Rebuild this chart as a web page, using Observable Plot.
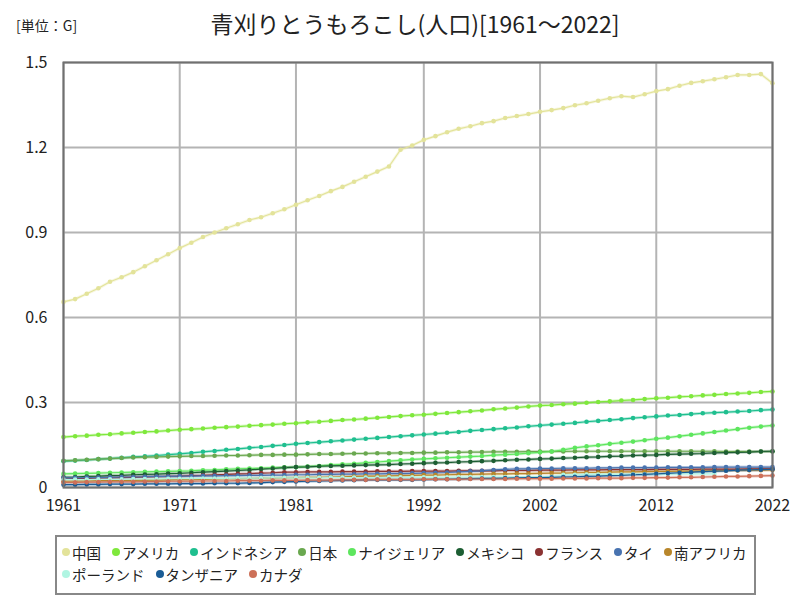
<!DOCTYPE html>
<html><head><meta charset="utf-8">
<script src="https://cdn.jsdelivr.net/npm/d3@7"></script>
<script src="https://cdn.jsdelivr.net/npm/@observablehq/plot@0.6"></script>
<style>
body{margin:0;background:#fff;font-family:"Noto Sans CJK JP","Noto Sans",sans-serif;}
#wrap{position:relative;width:800px;height:600px;overflow:hidden;}
#title{position:absolute;top:6px;left:0;width:830px;text-align:center;font-size:23px;color:#222;}
#unit{position:absolute;top:15px;left:16px;font-size:14px;color:#222;}
#chart{position:absolute;top:0;left:0;}
#legend{position:absolute;left:55px;top:535px;width:692px;height:52px;border:2px solid #888;box-sizing:content-box;padding-left:5px;padding-top:4px;font-size:14.5px;color:#222;overflow:hidden;}
.row{display:flex;flex-wrap:nowrap;column-gap:11px;white-space:nowrap;}
.it{display:flex;align-items:center;height:22px;}
.dt{width:8px;height:8px;border-radius:50%;margin-right:2px;}
</style></head>
<body><div id="wrap"><div id="chart"></div><div id="unit">[単位：G]</div><div id="title">青刈りとうもろこし(人口)[1961～2022]</div><div id="legend"><div class="row" id="r1"></div><div class="row" id="r2"></div></div></div>
<script>
const years = d3.range(1961, 2023);
const countries = ["中国","アメリカ","インドネシア","日本","ナイジェリア","メキシコ","フランス","タイ","南アフリカ","ポーランド","タンザニア","カナダ"];
const colors = ["#e3e39a","#7fe83c","#1fbf8f","#6aa84f","#5ee65e","#1d5e33","#8b3232","#4873b0","#b8862b","#b0f5e2","#1a5c96","#cd7058"];
const xTicks = [1961,1971,1981,1992,2002,2012,2022];
const yTicks = [0,0.3,0.6,0.9,1.2,1.5];

const china = [0.655,0.665,0.684,0.703,0.726,0.742,0.760,0.781,0.802,0.823,
0.845,0.864,0.884,0.900,0.915,0.929,0.944,0.954,0.968,0.982,
0.998,1.014,1.029,1.046,1.061,1.079,1.097,1.115,1.133,1.192,
1.207,1.227,1.240,1.254,1.266,1.275,1.286,1.293,1.304,1.311,
1.318,1.326,1.332,1.339,1.349,1.356,1.365,1.374,1.381,1.378,
1.388,1.399,1.406,1.418,1.428,1.434,1.441,1.448,1.456,1.456,
1.459,1.427];
const usa = [0.178,0.181,0.183,0.186,0.188,0.191,0.193,0.196,0.198,0.201,
0.204,0.206,0.208,0.211,0.213,0.215,0.218,0.220,0.222,0.225,
0.227,0.230,0.232,0.235,0.238,0.240,0.243,0.246,0.249,0.252,
0.255,0.257,0.260,0.263,0.266,0.269,0.272,0.276,0.279,0.282,
0.286,0.289,0.291,0.294,0.296,0.299,0.302,0.304,0.307,0.309,
0.312,0.315,0.317,0.320,0.322,0.325,0.327,0.330,0.332,0.334,
0.337,0.339];
const indonesia = [0.093,0.095,0.097,0.100,0.102,0.105,0.108,0.110,0.113,0.116,
0.119,0.122,0.126,0.129,0.133,0.136,0.140,0.143,0.147,0.150,
0.154,0.157,0.160,0.163,0.166,0.169,0.172,0.175,0.178,0.181,
0.184,0.187,0.190,0.193,0.196,0.200,0.203,0.206,0.209,0.212,
0.216,0.219,0.222,0.225,0.228,0.232,0.235,0.238,0.241,0.245,
0.248,0.251,0.254,0.256,0.259,0.262,0.264,0.266,0.268,0.270,
0.273,0.275];
const japan = [0.094,0.096,0.098,0.100,0.102,0.104,0.106,0.107,0.108,0.109,
0.110,0.111,0.111,0.112,0.113,0.113,0.114,0.115,0.115,0.116,
0.116,0.117,0.118,0.118,0.119,0.120,0.120,0.121,0.121,0.122,
0.122,0.123,0.123,0.124,0.124,0.125,0.125,0.126,0.126,0.126,
0.127,0.127,0.127,0.127,0.128,0.128,0.128,0.128,0.128,0.128,
0.128,0.128,0.128,0.128,0.128,0.128,0.128,0.127,0.127,0.127,
0.127,0.127];
const nigeria = [0.048,0.049,0.050,0.051,0.052,0.053,0.054,0.055,0.056,0.057,
0.058,0.059,0.061,0.062,0.064,0.066,0.067,0.068,0.070,0.071,
0.072,0.074,0.076,0.079,0.082,0.084,0.087,0.090,0.093,0.096,
0.099,0.101,0.103,0.105,0.107,0.109,0.111,0.114,0.116,0.118,
0.121,0.124,0.127,0.133,0.140,0.145,0.149,0.154,0.158,0.162,
0.167,0.172,0.176,0.181,0.186,0.191,0.196,0.201,0.206,0.211,
0.215,0.219];
const mexico = [0.036,0.037,0.039,0.040,0.042,0.043,0.045,0.046,0.047,0.049,
0.050,0.052,0.054,0.056,0.058,0.060,0.062,0.065,0.067,0.070,
0.072,0.073,0.075,0.076,0.077,0.078,0.079,0.080,0.081,0.083,
0.084,0.086,0.087,0.088,0.090,0.091,0.093,0.094,0.096,0.098,
0.099,0.101,0.102,0.104,0.105,0.107,0.108,0.110,0.111,0.113,
0.114,0.115,0.117,0.118,0.119,0.120,0.122,0.123,0.124,0.125,
0.127,0.128];
const france = [0.030,0.031,0.032,0.033,0.034,0.035,0.036,0.037,0.038,0.039,
0.040,0.042,0.043,0.045,0.046,0.048,0.049,0.051,0.052,0.054,
0.054,0.055,0.055,0.055,0.056,0.056,0.056,0.057,0.057,0.057,
0.058,0.058,0.058,0.058,0.059,0.059,0.059,0.059,0.060,0.060,
0.060,0.061,0.061,0.061,0.062,0.062,0.062,0.063,0.063,0.063,
0.063,0.064,0.064,0.064,0.064,0.065,0.065,0.065,0.065,0.066,
0.066,0.066];
const thailand = [0.034,0.034,0.035,0.035,0.036,0.037,0.037,0.038,0.039,0.039,
0.040,0.040,0.041,0.041,0.042,0.042,0.043,0.043,0.044,0.044,
0.045,0.045,0.046,0.046,0.047,0.047,0.048,0.048,0.049,0.049,
0.050,0.051,0.052,0.053,0.055,0.057,0.059,0.062,0.064,0.066,
0.066,0.067,0.067,0.068,0.068,0.068,0.069,0.069,0.070,0.070,
0.070,0.070,0.071,0.071,0.071,0.071,0.072,0.072,0.072,0.072,
0.072,0.072];
const southAfrica = [0.022,0.023,0.023,0.024,0.024,0.025,0.025,0.026,0.026,0.027,
0.028,0.028,0.029,0.030,0.031,0.031,0.032,0.033,0.033,0.034,
0.035,0.036,0.036,0.037,0.038,0.039,0.040,0.040,0.041,0.042,
0.043,0.044,0.044,0.045,0.046,0.046,0.047,0.048,0.048,0.049,
0.049,0.050,0.051,0.051,0.052,0.053,0.053,0.054,0.055,0.055,
0.056,0.057,0.057,0.058,0.058,0.059,0.059,0.060,0.060,0.061,
0.061,0.062];
const poland = [0.028,0.028,0.028,0.029,0.029,0.029,0.030,0.030,0.030,0.031,
0.031,0.031,0.032,0.032,0.032,0.033,0.033,0.033,0.034,0.034,
0.034,0.034,0.034,0.035,0.035,0.035,0.035,0.035,0.036,0.036,
0.036,0.036,0.036,0.036,0.037,0.037,0.037,0.037,0.037,0.037,
0.038,0.038,0.038,0.045,0.045,0.046,0.046,0.046,0.046,0.047,
0.047,0.047,0.047,0.048,0.048,0.048,0.048,null,null,null,
null,null];
const tanzania = [0.010,0.010,0.011,0.011,0.012,0.012,0.012,0.013,0.013,0.013,
0.014,0.014,0.014,0.015,0.015,0.015,0.016,0.017,0.019,0.020,
0.021,0.022,0.023,0.024,0.025,0.026,0.027,0.027,0.027,0.027,
0.027,0.028,0.029,0.029,0.030,0.031,0.032,0.032,0.033,0.034,
0.035,0.035,0.036,0.037,0.038,0.039,0.040,0.042,0.043,0.045,
0.046,0.048,0.050,0.052,0.054,0.056,0.058,0.059,0.061,0.062,
0.063,0.064];
const canada = [0.018,0.018,0.019,0.019,0.020,0.020,0.020,0.021,0.021,0.022,
0.022,0.022,0.023,0.023,0.023,0.024,0.024,0.024,0.025,0.025,
0.025,0.026,0.026,0.026,0.027,0.027,0.027,0.028,0.028,0.028,
0.028,0.029,0.029,0.029,0.029,0.030,0.030,0.030,0.030,0.031,
0.031,0.031,0.031,0.032,0.032,0.032,0.033,0.033,0.033,0.034,
0.034,0.035,0.035,0.036,0.036,0.037,0.038,0.039,0.039,0.040,
0.041,0.042];

const series = [china,usa,indonesia,japan,nigeria,mexico,france,thailand,southAfrica,poland,tanzania,canada];
const data = [];
countries.forEach((c,i)=>{
  years.forEach((y,j)=>{ data.push({country:c, year:y, value:series[i][j]}); });
});
const pts = data.filter(d=>d.value!=null);

const chart = Plot.plot({
  width:800, height:530,
  marginTop:62, marginLeft:63, marginRight:28, marginBottom:43,
  style:{fontFamily:'"Noto Sans CJK JP","Noto Sans",sans-serif', fontSize:"16px", color:"#222", background:"transparent"},
  x:{domain:[1961,2022], label:null},
  y:{domain:[0,1.5], label:null},
  color:{domain:countries, range:colors},
  marks:[
    Plot.gridX(xTicks,{stroke:"#b4b4b4", strokeOpacity:1, strokeWidth:2}),
    Plot.gridY(yTicks,{stroke:"#b4b4b4", strokeOpacity:1, strokeWidth:2}),
    Plot.line(data,{x:"year", y:"value", z:"country", stroke:"country", strokeWidth:3, strokeOpacity:0.3}),
    Plot.line(data,{x:"year", y:"value", z:"country", stroke:"country", strokeWidth:1.2}),
    Plot.dot(pts,{x:"year", y:"value", fill:"country", r:2.3}),
    Plot.frame({stroke:"#707070", strokeWidth:2}),
    Plot.axisX({ticks:xTicks, tickFormat:d=>String(d), tickSize:0, tickPadding:12, fontSize:16}),
    Plot.axisY({ticks:yTicks, tickFormat:d=>String(+d.toFixed(1)), tickSize:0, tickPadding:16, fontSize:16})
  ]
});
document.getElementById("chart").appendChild(chart);

countries.forEach((c,i)=>{
  const it = document.createElement("div"); it.className="it";
  const dt = document.createElement("span"); dt.className="dt"; dt.style.background=colors[i];
  const tx = document.createElement("span"); tx.textContent=c;
  it.appendChild(dt); it.appendChild(tx);
  document.getElementById(i < 9 ? "r1" : "r2").appendChild(it);
});
</script></body></html>
